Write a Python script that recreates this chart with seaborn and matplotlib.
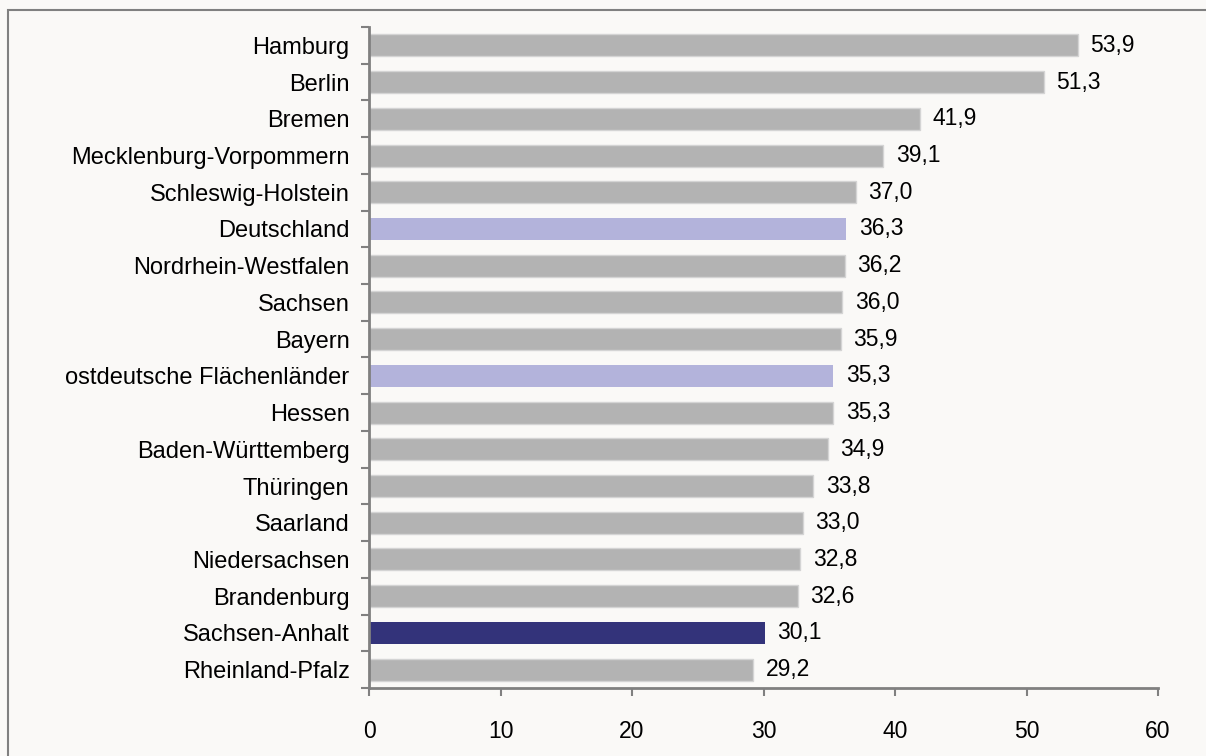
import matplotlib
matplotlib.use('agg')
import matplotlib.pyplot as plt
import seaborn as sns
import pandas as pd
from matplotlib.patches import Rectangle

laender = ["Hamburg", "Berlin", "Bremen", "Mecklenburg-Vorpommern", "Schleswig-Holstein",
           "Deutschland", "Nordrhein-Westfalen", "Sachsen", "Bayern",
           "ostdeutsche Flächenländer", "Hessen", "Baden-Württemberg", "Thüringen",
           "Saarland", "Niedersachsen", "Brandenburg", "Sachsen-Anhalt", "Rheinland-Pfalz"]
werte = [53.9, 51.3, 41.9, 39.1, 37.0, 36.3, 36.2, 36.0, 35.9, 35.3, 35.3, 34.9,
         33.8, 33.0, 32.8, 32.6, 30.1, 29.2]
gruppe = ["land"] * 5 + ["vergleich"] + ["land"] * 3 + ["vergleich"] + ["land"] * 6 + ["st"] + ["land"]
farben = {"land": "#b3b3b3", "vergleich": "#b3b3db", "st": "#33337a"}

df = pd.DataFrame({"land": laender, "wert": werte, "gruppe": gruppe})

sns.set_style("white")
plt.rcParams['font.family'] = ['Liberation Sans', 'DejaVu Sans']
plt.rcParams['text.color'] = 'black'
plt.rcParams['xtick.color'] = 'black'
plt.rcParams['ytick.color'] = 'black'
bg = "#faf9f7"
grau = "#808080"

fig = plt.figure(figsize=(12.06, 7.56), dpi=100, facecolor=bg)
ax = fig.add_axes([369/1206, 1-688/756, (1158-369)/1206, (688-27)/756])
ax.set_facecolor(bg)

sns.barplot(data=df, x="wert", y="land", hue="gruppe", palette=farben, dodge=False,
            width=0.6, legend=False, ax=ax, linewidth=0, saturation=1)
for p in ax.patches:
    if p.get_facecolor()[:3] == matplotlib.colors.to_rgb(farben["land"]):
        p.set_edgecolor("#d4d4d4")
        p.set_linewidth(1)
for c in ax.containers:
    ax.bar_label(c, labels=[f"{v:.1f}".replace(".", ",") if v == v else "" for v in c.datavalues],
                 padding=9, fontsize=16.5, color="black")

ax.set_xlim(0, 60)
ax.set_ylim(len(laender) - 0.5, -0.5)
ax.set_xticks(range(0, 61, 10))
ax.set_yticks([i - 0.5 for i in range(len(laender) + 1)], minor=False)
ax.set_yticklabels([])
ax.set_yticks(range(len(laender)), minor=True)
ax.set_yticklabels(laender, minor=True)
ax.tick_params(axis="y", which="minor", left=False, length=0, pad=14, labelsize=17)
ax.tick_params(axis="y", which="major", left=True, length=6, width=1.5, color=grau, direction="out")
ax.tick_params(axis="x", bottom=True, length=6, width=1.5, color=grau, direction="out", pad=17,
               labelsize=16.5)
ax.set_xlabel("")
ax.set_ylabel("")
for s in ["top", "right"]:
    ax.spines[s].set_visible(False)
for s in ["left", "bottom"]:
    ax.spines[s].set_color(grau)
    ax.spines[s].set_linewidth(2)

fig.patches.append(Rectangle((8/1206, -0.05), 1.1, 1.05 - 10/756, transform=fig.transFigure,
                             fill=False, edgecolor=grau, linewidth=1.5))

fig.savefig("out.png", dpi=100, facecolor=bg)
